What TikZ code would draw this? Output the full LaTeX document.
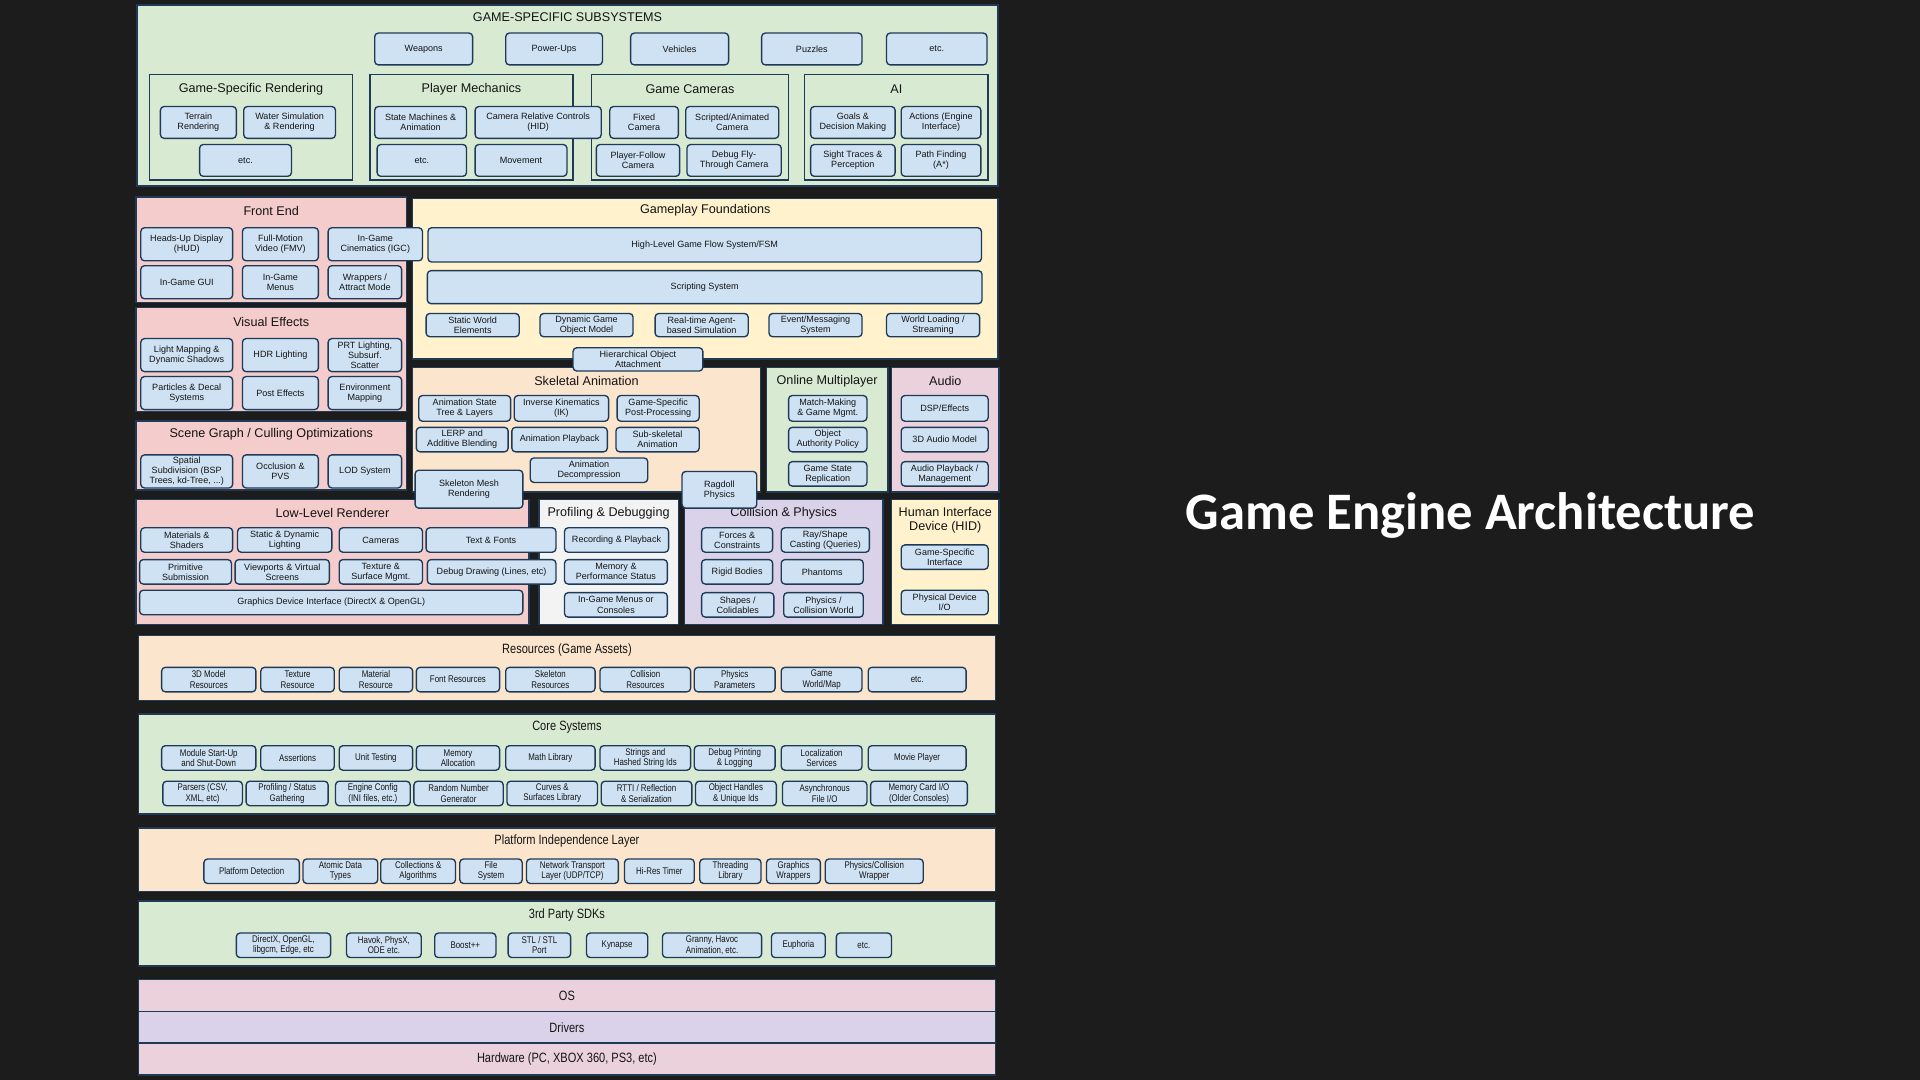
\documentclass[tikz,border=0pt]{standalone}
\usepackage{fontspec}
\setmainfont{Liberation Sans}
\newfontfamily\narrowfont[FakeStretch=0.82]{Liberation Sans}
\newfontfamily\headfont{Carlito}
\definecolor{bg}{HTML}{1C1C1C}
\definecolor{edge}{HTML}{1F3A57}
\definecolor{ink}{HTML}{141414}
\definecolor{boxblue}{HTML}{CFE2F3}
\definecolor{lgreen}{HTML}{D9EAD3}
\definecolor{lpink}{HTML}{F4CCCC}
\definecolor{lyellow}{HTML}{FFF2CC}
\definecolor{lpeach}{HTML}{FCE5CD}
\definecolor{lgray}{HTML}{F3F3F3}
\definecolor{lpurple}{HTML}{D9D2E9}
\definecolor{lmauve}{HTML}{EAD1DC}

\begin{document}
\begin{tikzpicture}
  [x=1pt,y=-1pt,
   layer/.style={draw=edge,line width=1.3pt,anchor=north west,inner sep=0pt,outer sep=0pt},
   blk/.style={draw=edge,fill=boxblue,rounded corners=3pt,line width=1.1pt,align=center,
     inner sep=1pt,text=ink,font=\fontsize{7.4}{8.2}\selectfont},
   nblk/.style={blk,font=\narrowfont\fontsize{7.9}{8.4}\selectfont},
   ttl/.style={text=ink,align=center,inner sep=1pt,font=\fontsize{10.3}{11.5}\selectfont},
   nttl/.style={ttl,font=\narrowfont\fontsize{11}{12}\selectfont}]
  \fill[bg] (0,0) rectangle (1568,882);
  \useasboundingbox (0,0) rectangle (1568,882);

  \foreach \n/\xa/\ya/\xb/\yb/\col in {gss/112/4/815/152/lgreen,gsr/122/61/288/147/lgreen,
      plm/302/61/468/147/lgreen,gcam/483/61/644/147/lgreen,ai/657/61/807/147/lgreen,
      fe/111/161/332/247/lpink,vfx/111/251/332/336/lpink,sg/111/344/332/400/lpink,
      gpf/337/162/815/293/lyellow,skel/337/300/621/402/lpeach,online/626/300/725/402/lgreen,
      audio/728/300/816/402/lmauve,llr/111/408/432/510/lpink,prof/440/408/554/510/lgray,
      colphys/559/408/721/510/lpurple,hid/728/408/816/510/lyellow,
      res/113/519/813/572/lpeach,core/113/583/813/665/lgreen,plat/113/676/813/728/lpeach,
      sdk/113/736/813/789/lgreen,os/113/800/813/826/lmauve,drivers/113/826/813/852/lpurple,
      hw/113/852/813/878/lmauve}
    \node[layer,fill=\col,minimum width={(\xb-\xa)*1pt},minimum height={(\yb-\ya)*1pt}] (\n) at (\xa,\ya) {};

  \foreach \n/\x/\y/\txt in {gsst/463.5/14/{GAME-SPECIFIC SUBSYSTEMS},gsrt/205/73/{Game-Specific Rendering},
      plmt/385/73/{Player Mechanics},gcamt/563.5/73/{Game Cameras},ait/732/73/{AI},
      fet/221.5/172/{Front End},vfxt/221.5/263/{Visual Effects},sgt/221.5/355/{Scene Graph / Culling Optimizations},
      gpft/576/172/{Gameplay Foundations},skelt/479/311/{Skeletal Animation},onlinet/675.5/311/{Online Multiplayer},
      audiot/772/311/{Audio},llrt/271.5/419/{Low-Level Renderer},proft/497/419/{Profiling \& Debugging},
      colphyst/640/419/{Collision \& Physics},hidt/772/425/{Human Interface\\Device (HID)}}
    \node[ttl] (\n) at (\x,\y) {\txt};
  \foreach \n/\y/\txt in {rest/531/{Resources (Game Assets)},coret/594/{Core Systems},
      platt/687/{Platform Independence Layer},sdkt/747/{3rd Party SDKs},ost/813/{OS},
      driverst/839/{Drivers},hwt/865/{Hardware (PC, XBOX 360, PS3, etc)}}
    \node[nttl] (\n) at (463,\y) {\txt};

  % game-specific subsystems
  \foreach \n/\x/\w/\txt in {weapons/346/80/Weapons,powerups/452.5/79/Power-Ups,vehicles/555/80/Vehicles,
      puzzles/663/82/Puzzles,gsetc/765/82/etc.}
    \node[blk,minimum width=\w pt,minimum height=26pt] (\n) at (\x,40) {\txt};
  \foreach \n/\x/\w/\txt in {terrain/162/62/{Terrain\\Rendering},water/236.5/75/{Water Simulation\\\& Rendering},
      statem/343.5/75/{State Machines \&\\Animation},camrel/439.5/103/{Camera Relative Controls\\(HID)},
      fixedcam/526/56/{Fixed\\Camera},scriptcam/598/76/{Scripted/Animated\\Camera},
      goals/696.5/69/{Goals \&\\Decision Making},actions/768.5/65/{Actions (Engine\\Interface)}}
    \node[blk,minimum width=\w pt,minimum height=26pt] (\n) at (\x,100) {\txt};
  \foreach \n/\x/\w/\txt in {gsretc/200.5/75/etc.,plmetc/344.5/73/etc.,movement/425.5/75/Movement,
      followcam/521/68/{Player-Follow\\Camera},flycam/599.5/77/{Debug Fly-\\Through Camera},
      sight/696.5/69/{Sight Traces \&\\Perception},pathfind/768.5/65/{Path Finding\\(A*)}}
    \node[blk,minimum width=\w pt,minimum height=26pt] (\n) at (\x,131) {\txt};

  % front end, visual effects, scene graph
  \foreach \n/\x/\y/\w/\txt in {hud/152.5/199.5/75/{Heads-Up Display\\(HUD)},fmv/229/199.5/62/{Full-Motion\\Video (FMV)},
      igc/306.5/199.5/77/{In-Game\\Cinematics (IGC)},ingui/152.5/230.5/75/{In-Game GUI},
      inmenus/229/230.5/62/{In-Game\\Menus},wrappers/298/230.5/60/{Wrappers /\\Attract Mode},
      lightmap/152.5/290/75/{Light Mapping \&\\Dynamic Shadows},hdr/229/290/62/{HDR Lighting},
      prt/298/290/60/{PRT Lighting,\\Subsurf.\\Scatter},particles/152.5/321/75/{Particles \& Decal\\Systems},
      posteff/229/321/62/{Post Effects},envmap/298/321/60/{Environment\\Mapping},
      spatial/152.5/385/75/{Spatial\\Subdivision (BSP\\Trees, kd-Tree, ...)},
      occlusion/229/385/62/{Occlusion \&\\PVS},lod/298/385/60/{LOD System}}
    \node[blk,minimum width=\w pt,minimum height=27pt] (\n) at (\x,\y) {\txt};

  % gameplay foundations
  \node[blk,minimum width=452pt,minimum height=28pt] (highlevel) at (575.5,200) {High-Level Game Flow System/FSM};
  \node[blk,minimum width=453pt,minimum height=27pt] (scripting) at (575.5,234.5) {Scripting System};
  \foreach \n/\x/\txt in {staticworld/386/{Static World\\Elements},dynobj/479/{Dynamic Game\\Object Model},
      realtime/573/{Real-time Agent-\\based Simulation},eventmsg/666/{Event/Messaging\\System},
      worldload/762/{World Loading /\\Streaming}}
    \node[blk,minimum width=76pt,minimum height=19pt] (\n) at (\x,265.5) {\txt};

  % skeletal animation, online, audio
  \foreach \n/\x/\y/\w/\h/\txt in {animstate/379.5/333.5/75/21/{Animation State\\Tree \& Layers},
      ik/458.5/333.5/77/21/{Inverse Kinematics\\(IK)},gspost/537.5/333.5/67/21/{Game-Specific\\Post-Processing},
      lerp/377.5/359/75/20/{LERP and\\Additive Blending},animplay/457/359/78/20/{Animation Playback},
      subskel/537/359/68/20/{Sub-skeletal\\Animation},animdecomp/481/384/96/20/{Animation\\Decompression},
      matchmaking/676/333.5/64/21/{Match-Making\\\& Game Mgmt.},objauth/676/359/64/20/{Object\\Authority Policy},
      gamestate/676/387/64/20/{Game State\\Replication},dsp/771.5/333.5/71/21/{DSP/Effects},
      audio3d/771.5/359/71/20/{3D Audio Model},audioplay/771.5/387/71/20/{Audio Playback /\\Management},
      hierarch/521/293.5/106/19/{Hierarchical Object\\Attachment},
      skelmesh/383/399.5/88/31/{Skeleton Mesh\\Rendering},ragdoll/587.5/400/61/30/{Ragdoll\\Physics}}
    \node[blk,minimum width=\w pt,minimum height=\h pt] (\n) at (\x,\y) {\txt};

  % renderer, profiling, collision, hid
  \foreach \n/\x/\y/\w/\txt in {materials/152.5/441/75/{Materials \&\\Shaders},statdyn/232.5/441/77/{Static \& Dynamic\\Lighting},
      cameras/311/441/68/{Cameras},textfonts/401/441/106/{Text \& Fonts},
      primitive/151.5/467/75/{Primitive\\Submission},viewports/230.5/467/77/{Viewports \& Virtual\\Screens},
      texture/311/467/68/{Texture \&\\Surface Mgmt.},debugdraw/401.5/467/105/{Debug Drawing (Lines, etc)},
      gdi/270.5/492/313/{Graphics Device Interface (DirectX \& OpenGL)},
      recording/503.5/441/85/{Recording \& Playback},memperf/503/467/84/{Memory \&\\Performance Status},
      ingamecons/503/494/84/{In-Game Menus or\\Consoles},
      forces/602/441/58/{Forces \&\\Constraints},raycast/674/441/72/{Ray/Shape\\Casting (Queries)},
      rigid/602/467/58/{Rigid Bodies},phantoms/671.5/467/67/{Phantoms},
      shapes/602.5/494/59/{Shapes /\\Colidables},colworld/672.5/494/65/{Physics /\\Collision World},
      gsinterface/771.5/455/71/{Game-Specific\\Interface},physdev/771.5/492/71/{Physical Device\\I/O}}
    \node[blk,minimum width=\w pt,minimum height=20pt] (\n) at (\x,\y) {\txt};

  % resources and core systems
  \foreach \n/\x/\w/\txt in {model3d/170.5/77/{3D Model\\Resources},texres/243/60/{Texture\\Resource},
      matres/307/60/{Material\\Resource},fontres/374/68/{Font Resources},skelres/449.5/73/{Skeleton\\Resources},
      colres/527/74/{Collision\\Resources},physparam/600/66/{Physics\\Parameters},
      worldmap/671/66/{Game\\World/Map},resetc/749/80/{etc.}}
    \node[nblk,minimum width=\w pt,minimum height=20pt] (\n) at (\x,555) {\txt};
  \foreach \n/\x/\w/\txt in {modstart/170.5/77/{Module Start-Up\\and Shut-Down},assertions/243/60/{Assertions},
      unittest/307/60/{Unit Testing},memalloc/374/68/{Memory\\Allocation},mathlib/449.5/73/{Math Library},
      strings/527/74/{Strings and\\Hashed String Ids},debugprint/600/66/{Debug Printing\\\& Logging},
      localization/671/66/{Localization\\Services},movie/749/80/{Movie Player}}
    \node[nblk,minimum width=\w pt,minimum height=20pt] (\n) at (\x,619) {\txt};
  \foreach \n/\x/\w/\txt in {parsers/165.5/65/{Parsers (CSV,\\XML, etc)},profstat/234.5/67/{Profiling / Status\\Gathering},
      engcfg/304.5/61/{Engine Config\\(INI files, etc.)},rng/374.5/73/{Random Number\\Generator},
      curves/451/74/{Curves \&\\Surfaces Library},rtti/528/74/{RTTI / Reflection\\\& Serialization},
      objhandles/601/66/{Object Handles\\\& Unique Ids},asyncio/673.5/69/{Asynchronous\\File I/O},
      memcard/750.5/79/{Memory Card I/O\\(Older Consoles)}}
    \node[nblk,minimum width=\w pt,minimum height=20pt] (\n) at (\x,648) {\txt};

  % platform layer and sdks
  \foreach \n/\x/\w/\txt in {platdet/205.5/78/{Platform Detection},atomic/278/61/{Atomic Data\\Types},
      collections/341.5/61/{Collections \&\\Algorithms},filesys/401/51/{File\\System},
      network/467.5/75/{Network Transport\\Layer (UDP/TCP)},hires/538.5/57/{Hi-Res Timer},
      threading/596.5/50/{Threading\\Library},gfxwrap/648/44/{Graphics\\Wrappers},
      physwrap/714/80/{Physics/Collision\\Wrapper}}
    \node[nblk,minimum width=\w pt,minimum height=20pt] (\n) at (\x,711.5) {\txt};
  \foreach \n/\x/\w/\txt in {directx/231.5/77/{DirectX, OpenGL,\\libgcm, Edge, etc},havok/313.5/61/{Havok, PhysX,\\ODE etc.},
      boost/380/50/{Boost++},stl/440.5/51/{STL / STL\\Port},kynapse/504/50/{Kynapse},
      granny/581.5/81/{Granny, Havoc\\Animation, etc.},euphoria/652/44/{Euphoria},sdketc/705.5/45/{etc.}}
    \node[nblk,minimum width=\w pt,minimum height=20pt] (\n) at (\x,772) {\txt};

  \node[text=white,font=\headfont\bfseries\fontsize{43}{48}\selectfont] (maintitle) at (1201,421) {Game Engine Architecture};
\end{tikzpicture}
\end{document}
